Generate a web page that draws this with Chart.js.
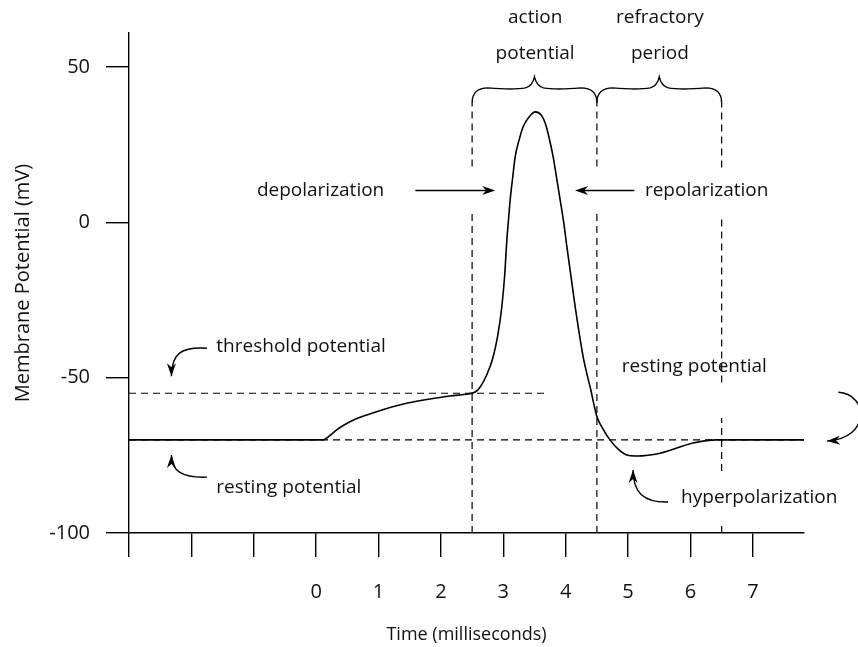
<!DOCTYPE html>
<html lang="en">
<head>
<meta charset="UTF-8">
<title>Action potential</title>
<script src="https://cdn.jsdelivr.net/npm/chart.js"></script>
<style>
  body { margin: 0; background: #fff; }
</style>
</head>
<body>
<canvas id="grafico" width="858" height="647"></canvas>
<script>
// membrane potential trace: time (ms) and potential (mV)
const tempo = [-3, 0.11, 0.22, 0.33, 0.44, 0.6, 0.81, 1.08, 1.35, 1.61, 1.9, 2.15, 2.4, 2.55,
  2.63, 2.73, 2.83, 2.91, 2.975, 3.022, 3.057, 3.086, 3.11, 3.15, 3.19, 3.254, 3.318, 3.415, 3.511,
  3.607, 3.671, 3.735, 3.799, 3.855, 3.911, 3.968, 4.019, 4.088, 4.152, 4.216, 4.28, 4.344, 4.392,
  4.5, 4.606, 4.713, 4.841, 4.981, 5.141, 5.515, 6.044, 6.424, 7.82];
const potencial = [-70, -70, -68.6, -66.8, -65.3, -63.6, -62.0, -60.2, -58.7, -57.6, -56.6, -55.9, -55.3, -54.6,
  -53.0, -49.3, -43.8, -36.5, -27.4, -17.0, -5.6, 1.5, 7.3, 14.4, 21.1, 26.6, 30.8, 34.0, 35.6,
  34.6, 32.0, 27.2, 21.1, 14.3, 7.3, 0.0, -7.8, -17.8, -27.2, -35.6, -43.3, -49.1, -53.0,
  -62.5, -66.8, -70.1, -73.0, -74.9, -75.2, -74.3, -71.0, -70.0, -70];

// reference levels (mV)
const resting = -70;
const threshold = -55;
const thresholdEnd = 3.72;

// vertical dashed markers (ms) and the parts of each that are drawn (mV)
const markerTimes = [2.5, 4.5, 6.5];
const markerSpans = [
  [[-100, 4], [18, 38.5]],
  [[-100, 4], [18, 38.5]],
  [[-100, -97.5], [-80, -63], [-51.5, 1.5], [17.7, 38.5]]
];

// axes
const xMin = -3, xMax = 7.82;
const yMin = -100, yMax = 61;
const xLabelStart = 0;

const FONT = '"Open Sans", "Noto Sans", sans-serif';

const curva = tempo.map((t, i) => ({ x: t, y: potencial[i] }));

const marcadores = markerTimes.map((t, i) => {
  const pts = [];
  markerSpans[i].forEach(([a, b]) => {
    pts.push({ x: t, y: a }, { x: t, y: b }, { x: t, y: null });
  });
  return pts;
});

function ponta(ctx, x, y, ang) {
  ctx.save();
  ctx.translate(x, y);
  ctx.rotate(ang);
  ctx.beginPath();
  ctx.moveTo(0, 0);
  ctx.lineTo(-13, -4.5);
  ctx.lineTo(-9, 0);
  ctx.lineTo(-13, 4.5);
  ctx.closePath();
  ctx.fill();
  ctx.restore();
}

function seta(ctx, x0, y0, x1, y1) {
  const ang = Math.atan2(y1 - y0, x1 - x0);
  ctx.beginPath();
  ctx.moveTo(x0, y0);
  ctx.lineTo(x1 - 8 * Math.cos(ang), y1 - 8 * Math.sin(ang));
  ctx.stroke();
  ponta(ctx, x1, y1, ang);
}

function setaCurva(ctx, p) {
  // p: [start, c1, c2, end] in pixels
  ctx.beginPath();
  ctx.moveTo(p[0][0], p[0][1]);
  ctx.bezierCurveTo(p[1][0], p[1][1], p[2][0], p[2][1], p[3][0], p[3][1]);
  ctx.stroke();
  ponta(ctx, p[3][0], p[3][1], Math.atan2(p[3][1] - p[2][1], p[3][0] - p[2][0]));
}

function chave(ctx, x0, x1, yb) {
  const xm = (x0 + x1) / 2, yf = yb - 15, yt = yb - 26;
  ctx.beginPath();
  ctx.moveTo(x0, yb);
  ctx.quadraticCurveTo(x0, yf, x0 + 16, yf);
  ctx.bezierCurveTo(xm - 35, yf + 1, xm - 20, yf + 2, xm - 9, yf);
  ctx.quadraticCurveTo(xm - 2, yf - 2, xm, yt);
  ctx.quadraticCurveTo(xm + 2, yf - 2, xm + 9, yf);
  ctx.bezierCurveTo(xm + 20, yf + 2, xm + 35, yf + 1, x1 - 16, yf);
  ctx.quadraticCurveTo(x1, yf, x1, yb);
  ctx.stroke();
}

const anotacoes = {
  id: 'anotacoes',
  afterDatasetsDraw(chart) {
    const { ctx, scales: { x, y } } = chart;
    const X = v => x.getPixelForValue(v);
    const Y = v => y.getPixelForValue(v);
    const P = (a, b) => [X(a), Y(b)];

    ctx.save();
    ctx.strokeStyle = '#000';
    ctx.fillStyle = '#000';
    ctx.lineWidth = 1.4;

    // braces over the action potential and refractory period
    chave(ctx, X(markerTimes[0]), X(markerTimes[1]), Y(38.5));
    chave(ctx, X(markerTimes[1]), X(markerTimes[2]), Y(38.5));

    // straight arrows
    seta(ctx, X(1.59), Y(10.3), X(2.87), Y(10.3));
    seta(ctx, X(5.1), Y(10.3), X(4.15), Y(10.3));

    // curved arrows
    setaCurva(ctx, [P(-1.75, -40.5), P(-2.15, -40), P(-2.32, -42), P(-2.32, -49.5)]);
    setaCurva(ctx, [P(-1.75, -82), P(-2.15, -82.3), P(-2.32, -80), P(-2.32, -74.9)]);
    setaCurva(ctx, [P(5.64, -90), P(5.25, -90.2), P(5.08, -87), P(5.08, -79.7)]);
    setaCurva(ctx, [P(8.37, -54.7), P(8.85, -55.2), P(8.9, -69.5), P(8.19, -70.4)]);

    // labels
    ctx.font = '19px ' + FONT;
    ctx.fillStyle = '#111';
    ctx.textBaseline = 'middle';
    ctx.textAlign = 'left';
    ctx.fillText('depolarization', X(-0.95), Y(10.3));
    ctx.fillText('repolarization', X(5.27), Y(10.3));
    ctx.fillText('threshold potential', X(-1.6), Y(-39.9));
    ctx.fillText('resting potential', X(-1.6), Y(-85.5));
    ctx.fillText('resting potential', X(4.9), Y(-46.3));
    ctx.fillText('hyperpolarization', X(5.85), Y(-88.7));
    ctx.textAlign = 'center';
    ctx.fillText('action', X(3.51), Y(65.8));
    ctx.fillText('potential', X(3.51), Y(54.5));
    ctx.fillText('refractory', X(5.51), Y(65.8));
    ctx.fillText('period', X(5.51), Y(54.5));
    ctx.restore();
  }
};

const tracejado = {
  borderColor: '#000',
  borderWidth: 1.2,
  borderDash: [7, 5],
  pointRadius: 0,
  spanGaps: false,
  fill: false
};

const config = {
  type: 'line',
  data: {
    datasets: [
      {
        data: curva,
        borderColor: '#000',
        borderWidth: 1.6,
        pointRadius: 0,
        cubicInterpolationMode: 'monotone',
        fill: false,
        order: 0
      },
      Object.assign({ data: [{ x: xMin, y: resting }, { x: xMax, y: resting }], order: 1 }, tracejado),
      Object.assign({ data: [{ x: xMin, y: threshold }, { x: thresholdEnd, y: threshold }], order: 1 }, tracejado),
      ...marcadores.map(m => Object.assign({ data: m, order: 1 }, tracejado))
    ]
  },
  options: {
    responsive: false,
    animation: false,
    events: [],
    layout: { padding: { top: 33, right: 54, left: 0, bottom: 0 } },
    plugins: { legend: { display: false }, tooltip: { enabled: false } },
    scales: {
      x: {
        type: 'linear',
        min: xMin,
        max: xMax,
        afterFit: s => { s.height = 114; },
        border: { display: true, color: '#000', width: 1.4 },
        grid: { display: true, drawOnChartArea: false, drawTicks: true, tickLength: 24, color: '#000', lineWidth: 1.4 },
        ticks: {
          stepSize: 1,
          includeBounds: false,
          autoSkip: false,
          maxRotation: 0,
          padding: 23,
          color: '#111',
          font: { family: FONT, size: 20 },
          callback: v => (v >= xLabelStart ? v : '')
        },
        title: {
          display: true,
          text: 'Time (milliseconds)',
          color: '#111',
          font: { family: FONT, size: 18 },
          padding: { top: 4, bottom: 1 }
        }
      },
      y: {
        min: yMin,
        max: yMax,
        afterFit: s => { s.width = 129; },
        border: { display: true, color: '#000', width: 1.4 },
        grid: { display: true, drawOnChartArea: false, drawTicks: true, tickLength: 23, color: '#000', lineWidth: 1.4 },
        ticks: {
          stepSize: 50,
          includeBounds: false,
          padding: 16,
          color: '#111',
          font: { family: FONT, size: 20 }
        },
        title: {
          display: true,
          text: 'Membrane Potential (mV)',
          color: '#111',
          font: { family: FONT, size: 20 },
          padding: { top: 11, bottom: 0 }
        }
      }
    }
  },
  plugins: [anotacoes]
};

new Chart(document.getElementById('grafico'), config);
</script>
</body>
</html>
